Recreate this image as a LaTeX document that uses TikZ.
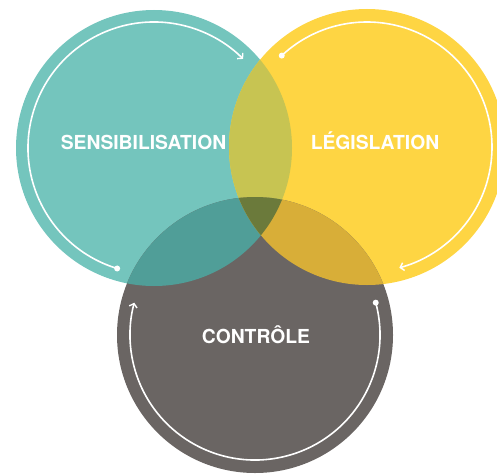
\documentclass[tikz,border=0pt]{standalone}
\usepackage{fontspec}
\setmainfont{TeX Gyre Heros}
\usetikzlibrary{arrows.meta}
\definecolor{tealc}{HTML}{74C5BD}
\definecolor{yellowc}{HTML}{FED543}
\definecolor{grayc}{HTML}{6A6563}
\definecolor{tyc}{HTML}{C7C452}
\definecolor{tgc}{HTML}{509E98}
\definecolor{ygc}{HTML}{D8AE38}
\definecolor{tygc}{HTML}{6B7A3B}
\begin{document}
\begin{tikzpicture}[x=1pt,y=1pt,
  lbl/.style={text=white,font=\fontsize{19.3}{21}\selectfont\bfseries,inner sep=0pt,anchor=base},
  ring/.style={draw=white,line width=1.6pt},
  ringarrow/.style={ring,-{Straight Barb[length=3.5pt,width=8pt,line width=1.4pt]}},
  ringdot/.style={fill=white}]
\useasboundingbox (0,0) rectangle (497,475);
\coordinate (T) at (154,327);
\coordinate (Y) at (367,328);
\coordinate (G) at (255,140);
% base discs
\fill[tealc] (T) circle[radius=138];
\fill[yellowc] (Y) circle[radius=138];
\fill[grayc] (G) circle[radius=138];
% overlaps
\begin{scope}
  \clip (T) circle[radius=138];
  \fill[tyc] (Y) circle[radius=138];
  \fill[tgc] (G) circle[radius=138];
\end{scope}
\begin{scope}
  \clip (Y) circle[radius=138];
  \fill[ygc] (G) circle[radius=138];
  \clip (T) circle[radius=138];
  \fill[tygc] (G) circle[radius=138];
\end{scope}
% white cycle arcs
\draw[ringarrow] (T) ++(253:126) arc[start angle=253,end angle=45,radius=126];
\fill[ringdot] (T) ++(253:126) circle[radius=3];
\draw[ringarrow] (Y) ++(133:125) arc[start angle=133,end angle=-75,radius=125];
\fill[ringdot] (Y) ++(133:125) circle[radius=3];
\draw[ringarrow] (G) ++(15:125) arc[start angle=15,end angle=-195,radius=125];
\fill[ringdot] (G) ++(15:125) circle[radius=3];
% labels
\node[lbl] (sens) at (143.5,326) {SENSIBILISATION};
\node[lbl] (legis) at (375,326) {LÉGISLATION};
\node[lbl] (ctrl) at (256,132) {CONTRÔLE};
\end{tikzpicture}
\end{document}
